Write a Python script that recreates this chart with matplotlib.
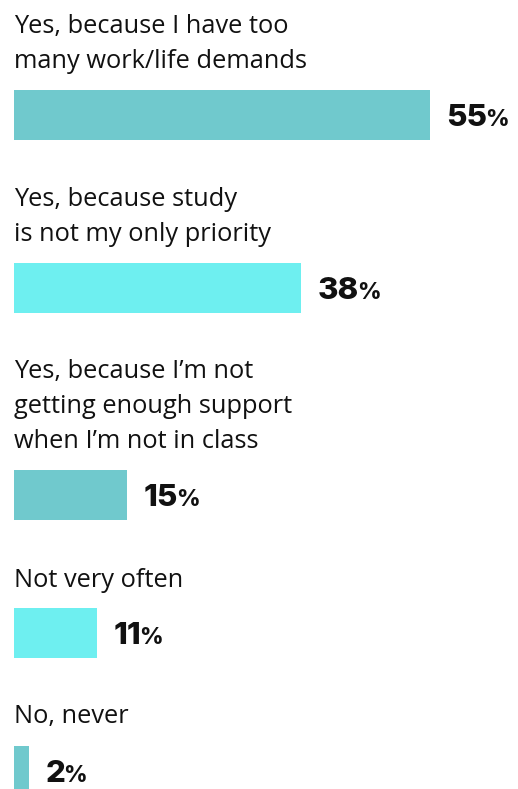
import matplotlib
matplotlib.use("Agg")
import matplotlib.pyplot as plt

# Survey responses and their shares
labels = [
    "Yes, because I have too\nmany work/life demands",
    "Yes, because study\nis not my only priority",
    "Yes, because I\u2019m not\ngetting enough support\nwhen I\u2019m not in class",
    "Not very often",
    "No, never",
]
values = [55, 38, 15, 11, 2]
colors = ["#70C9CD", "#6EEFF0", "#70C9CD", "#6EEFF0", "#70C9CD"]

# Layout (pixel units, y grows downward)
W, H = 518, 789
left_px = 14
px_per_pct = 7.564
bar_centers = [114.5, 288, 495, 632.5, 770.5]
bar_height = 50
label_first_baseline = [33, 206, 378, 587, 723]
line_step = 35
value_gap = 16

fig = plt.figure(figsize=(W / 100, H / 100), dpi=100)
ax = fig.add_axes([0, 0, 1, 1])
ax.set_xlim(-left_px / px_per_pct, (W - left_px) / px_per_pct)
ax.set_ylim(H, 0)
ax.axis("off")

ax.barh(bar_centers, values, height=bar_height, color=colors, left=0)

label_font = dict(family=["Open Sans", "DejaVu Sans"], size=18.3, color="#111111")
for lab, base in zip(labels, label_first_baseline):
    for i, line in enumerate(lab.split("\n")):
        ax.text(0, base + i * line_step, line, ha="left", va="baseline", **label_font)

value_font = dict(family=["Inter", "DejaVu Sans"], weight="heavy", color="#111111")

fig.canvas.draw()
renderer = fig.canvas.get_renderer()
num_texts = []
for v, yc in zip(values, bar_centers):
    x = v + value_gap / px_per_pct
    t = ax.text(x, yc + 11, f"{v}", ha="left", va="baseline", size=22.5, **value_font)
    num_texts.append((t, yc))

fig.canvas.draw()
inv = ax.transData.inverted()
for t, yc in num_texts:
    bb = t.get_window_extent(renderer)
    xd, _ = inv.transform((bb.x1 - 1.5, bb.y0))
    ax.text(xd, yc + 11, "%", ha="left", va="baseline", size=16.5, **value_font)

fig.savefig("out.png", dpi=100, facecolor="white")
